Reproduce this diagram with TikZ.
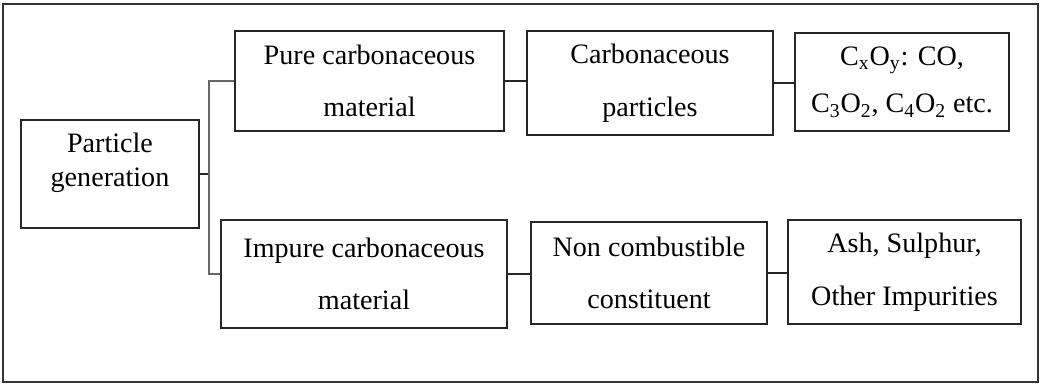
\documentclass[tikz,border=0pt]{standalone}
\usepackage{fontspec}
\setmainfont{Liberation Serif}
\usepackage{tikz}
\usetikzlibrary{positioning}

\begin{document}
\begin{tikzpicture}[
    x=0.02cm, y=-0.02cm,
    box/.style={rectangle, draw=black!85, line width=1pt, align=center,
      inner sep=0pt, font=\fontsize{16}{30}\selectfont},
    link/.style={draw=black!85, line width=0.9pt},
  ]
  \useasboundingbox (0,0) rectangle (1050,383);
  \draw[black!80, line width=1pt] (3,4) rectangle (1038,382);

  \node[box, minimum width=178*0.02cm, minimum height=108*0.02cm,
    font=\fontsize{16}{19.3}\selectfont] (gen) at (110,174)
    {Particle\\generation\\[-3pt]\mbox{}};

  \node[box, minimum width=269*0.02cm, minimum height=100*0.02cm] (pure) at (369.5,81)
    {Pure carbonaceous\\material};
  \node[box, minimum width=286*0.02cm, minimum height=108*0.02cm] (impure) at (364,274)
    {Impure carbonaceous\\material};

  \node[box, minimum width=246*0.02cm, minimum height=104*0.02cm] (carb) at (650,83)
    {Carbonaceous\\particles};
  \node[box, minimum width=236*0.02cm, minimum height=102*0.02cm] (noncomb) at (649,273)
    {Non combustible\\constituent};

  \node[box, minimum width=214*0.02cm, minimum height=98*0.02cm,
    font=\fontsize{16}{27}\selectfont] (oxides) at (902,82)
    {C\textsubscript{x}O\textsubscript{y}: CO,\\
     C\textsubscript{3}O\textsubscript{2}, C\textsubscript{4}O\textsubscript{2} etc.};
  \node[box, minimum width=233*0.02cm, minimum height=104*0.02cm] (ash) at (904.5,272)
    {Ash, Sulphur,\\Other Impurities};

  % fork from the first box
  \coordinate (fork) at (209,174);
  \draw[link, line width=1.4pt] (gen.east) -- (fork);
  \draw[draw=black!60, line width=0.9pt] (pure.west) -| (fork) |- (impure.west);

  \draw[link] (pure.east) -- (pure.east -| carb.west);
  \draw[link] (carb.east) -- (carb.east -| oxides.west);
  \draw[link] (impure.east) -- (impure.east -| noncomb.west);
  \draw[link] (noncomb.east) -- (noncomb.east -| ash.west);
\end{tikzpicture}
\end{document}
